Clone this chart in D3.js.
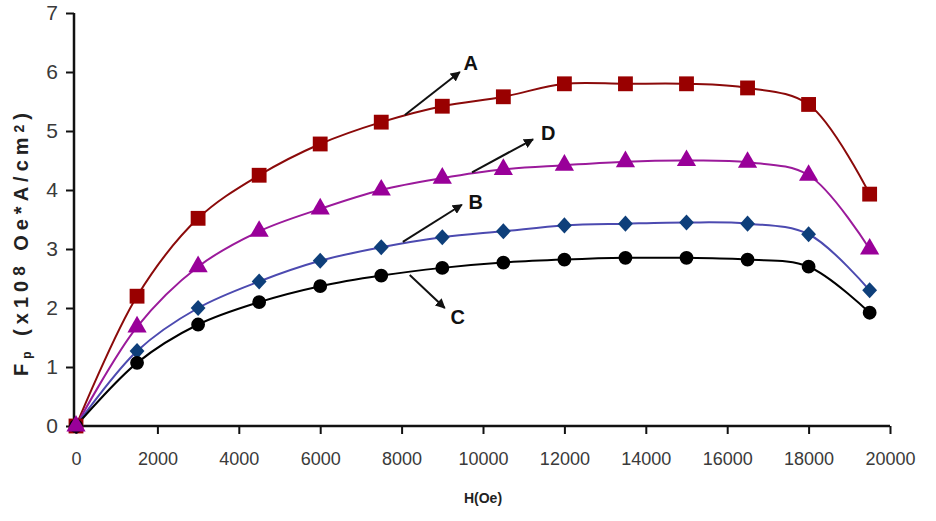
<!DOCTYPE html>
<html><head><meta charset="utf-8">
<script src="https://cdn.jsdelivr.net/npm/d3@7"></script>
<style>body{margin:0;background:#fff}svg{display:block}</style>
</head><body>
<script>
const H = [0,1500,3000,4500,6000,7500,9000,10500,12000,13500,15000,16500,18000,19500];
const seriesA = [0,2.2,3.52,4.25,4.78,5.15,5.42,5.58,5.8,5.8,5.8,5.73,5.45,3.93];
const seriesD = [0,1.68,2.7,3.3,3.68,4.0,4.2,4.35,4.42,4.48,4.5,4.47,4.25,3.0];
const seriesB = [0,1.27,2.0,2.45,2.8,3.03,3.2,3.3,3.4,3.43,3.45,3.43,3.25,2.3];
const seriesC = [0,1.07,1.72,2.1,2.37,2.55,2.68,2.77,2.82,2.85,2.85,2.82,2.7,1.92];
const xTicks = [0,2000,4000,6000,8000,10000,12000,14000,16000,18000,20000];
const yTicks = [0,1,2,3,4,5,6,7];
// annotations in data space: [label, fromH, fromY, toH, toY, labelH, labelY]
const annotations = [
  ["A", 8080, 5.27, 9430, 6.0, 9700, 6.15],
  ["D", 9730, 4.3, 11230, 4.86, 11600, 4.97],
  ["B", 8030, 3.12, 9480, 3.75, 9820, 3.8],
  ["C", 8200, 2.56, 9060, 2.0, 9380, 1.85]
];

const W = 936, Ht = 521;
const svg = d3.select("body").append("svg").attr("width", W).attr("height", Ht);
const x = d3.scaleLinear().domain([0,20000]).range([76,890]);
const y = d3.scaleLinear().domain([0,7]).range([426,13]);

const tickFont = "'Liberation Sans Narrow','Arial Narrow','Liberation Sans',sans-serif";

const xAxis = svg.append("g").attr("transform","translate(0,426)")
  .call(d3.axisBottom(x).tickValues(xTicks).tickSize(8).tickPadding(18).tickFormat(d3.format("d")));
const yAxis = svg.append("g").attr("transform","translate(74,0)")
  .call(d3.axisLeft(y).tickValues(yTicks).tickSize(8).tickPadding(8).tickFormat(d3.format("d")));
[xAxis,yAxis].forEach(g=>{
  g.select(".domain").attr("stroke","#111").attr("stroke-width",2.5);
  g.selectAll(".tick line").attr("stroke","#111").attr("stroke-width",2);
  g.selectAll(".tick text").attr("fill","#3a3a3a").style("font-family",tickFont);
});
xAxis.selectAll(".tick text").style("font-size","18px");
yAxis.selectAll(".tick text").style("font-size","21px");
xAxis.select(".domain").attr("d","M76,0H890");
yAxis.select(".domain").attr("d","M0,426V13");

svg.append("text").attr("x",483).attr("y",503).attr("text-anchor","middle")
  .style("font-family","'Liberation Sans',Arial,sans-serif").style("font-weight","bold")
  .style("font-size","14px").attr("fill","#222").text("H(Oe)");

const yt = svg.append("text").attr("transform","translate(28,242) rotate(-90)")
  .attr("text-anchor","middle")
  .style("font-family","'Liberation Sans',Arial,sans-serif").style("font-weight","bold")
  .style("font-size","20px").style("letter-spacing","5px").attr("fill","#222");
yt.append("tspan").text("F");
yt.append("tspan").attr("dy",3).style("font-size","12px").text("p");
yt.append("tspan").attr("dy",-3).text(" (x10");
yt.append("tspan").attr("dy",-3).style("font-size","17px").text("8");
yt.append("tspan").attr("dy",3).text(" Oe*A/cm");
yt.append("tspan").attr("dy",-4).style("font-size","14px").text("2");
yt.append("tspan").attr("dy",4).text(")");

const diamond = { draw(ctx, size){ const r=Math.sqrt(size/2); ctx.moveTo(0,-r); ctx.lineTo(r*0.92,0); ctx.lineTo(0,r); ctx.lineTo(-r*0.92,0); ctx.closePath(); } };

const series = [
  {name:"A", vals:seriesA, line:"#8b0a0a", fill:"#990000", shape:d3.symbolSquare, size:220},
  {name:"D", vals:seriesD, line:"#9b1a9b", fill:"#990099", shape:d3.symbolTriangle, size:160},
  {name:"B", vals:seriesB, line:"#4c4ab0", fill:"#0e3f7a", shape:diamond, size:130},
  {name:"C", vals:seriesC, line:"#000000", fill:"#000000", shape:d3.symbolCircle, size:150}
];
const lineGen = d3.line().x(d=>x(d[0])).y(d=>y(d[1])).curve(d3.curveCatmullRom.alpha(0.5));

series.forEach(s=>{
  const pts = H.map((h,i)=>[h,s.vals[i]]);
  svg.append("path").datum(pts).attr("d",lineGen).attr("fill","none")
    .attr("stroke",s.line).attr("stroke-width",2);
});
[series[0],series[2],series[3],series[1]].forEach(s=>{
  const pts = H.map((h,i)=>[h,s.vals[i]]);
  svg.append("g").selectAll("path").data(pts).join("path")
    .attr("transform",d=>`translate(${x(d[0])},${y(d[1])})`)
    .attr("d",d3.symbol().type(s.shape).size(s.size))
    .attr("fill",s.fill);
});

svg.append("defs").append("marker").attr("id","ah").attr("viewBox","0 0 10 10")
  .attr("refX",9).attr("refY",5).attr("markerWidth",5).attr("markerHeight",5)
  .attr("orient","auto").append("path").attr("d","M0,0L10,5L0,10z").attr("fill","#111");

annotations.forEach(a=>{
  svg.append("line").attr("x1",x(a[1])).attr("y1",y(a[2])).attr("x2",x(a[3])).attr("y2",y(a[4]))
    .attr("stroke","#111").attr("stroke-width",2).attr("marker-end","url(#ah)");
  svg.append("text").attr("x",x(a[5])).attr("y",y(a[6])).attr("dy","0.36em")
    .attr("text-anchor","middle").style("font-family","'Liberation Sans',Arial,sans-serif")
    .style("font-weight","bold").style("font-size","20px").attr("fill","#111").text(a[0]);
});
</script>
</body></html>
